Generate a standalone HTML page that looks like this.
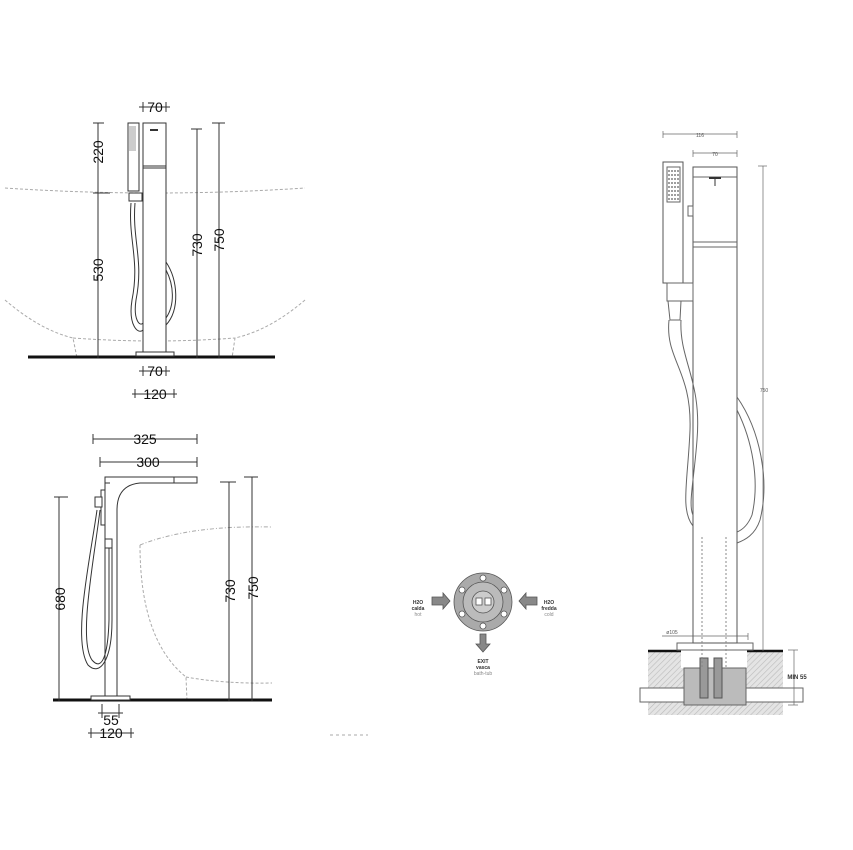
<!DOCTYPE html>
<html><head><meta charset="utf-8"><style>
html,body{margin:0;padding:0;background:#fff}
svg{display:block}
text{font-family:"Liberation Sans",sans-serif}
</style></head><body>
<svg width="853" height="850" viewBox="0 0 853 850" xmlns="http://www.w3.org/2000/svg">
<defs>
<pattern id="h" width="4" height="4" patternUnits="userSpaceOnUse" patternTransform="rotate(45)">
<rect width="4" height="4" fill="#e4e4e4"/><line x1="0" y1="0" x2="0" y2="4" stroke="#bbb" stroke-width="1.2"/></pattern>
</defs>
<g fill="none" stroke="#333" stroke-width="1">
<!-- ===== TOP LEFT VIEW ===== -->
<path d="M5,188 Q155,198 305,188" stroke="#aaa" stroke-dasharray="3,2"/>
<path d="M5,300 Q40,330 73,338 L77,358 M305,300 Q270,330 235,338 L232,358 M73,338 Q155,344 235,338" stroke="#aaa" stroke-dasharray="3,2"/>
<line x1="28" y1="357" x2="275" y2="357" stroke="#111" stroke-width="3"/>
<rect x="143" y="123" width="23" height="229" fill="#fff"/>
<line x1="143" y1="166" x2="166" y2="166"/><line x1="143" y1="168" x2="166" y2="168"/>
<line x1="150" y1="130" x2="158" y2="130" stroke-width="2"/>
<rect x="136" y="352" width="38" height="4" fill="#fff"/>
<rect x="128" y="123" width="11" height="68" fill="#fff"/>
<rect x="129" y="126" width="7" height="25" fill="#ccc" stroke="none"/>
<rect x="129" y="193" width="13" height="8" fill="#fff"/>
<path d="M131,203 C128,240 140,260 132,300 C128,325 138,335 143,330 M135,203 C132,240 144,260 136,300 C133,320 140,327 143,323"/>
<path d="M166,262 C178,280 180,310 166,325 M166,270 C174,285 175,305 166,318"/>
<line x1="98" y1="123" x2="98" y2="358"/><line x1="93" y1="123" x2="104" y2="123"/><line x1="93" y1="193" x2="110" y2="193"/>
<line x1="197" y1="129" x2="197" y2="358"/><line x1="191" y1="129" x2="202" y2="129"/>
<line x1="219" y1="123" x2="219" y2="358"/><line x1="212" y1="123" x2="225" y2="123"/>
<line x1="139" y1="107" x2="170" y2="107"/><line x1="143" y1="102" x2="143" y2="112"/><line x1="166" y1="102" x2="166" y2="112"/>
<line x1="139" y1="371" x2="170" y2="371"/><line x1="143" y1="366" x2="143" y2="376"/><line x1="166" y1="366" x2="166" y2="376"/>
<line x1="132" y1="394" x2="177" y2="394"/><line x1="135" y1="389" x2="135" y2="398"/><line x1="174" y1="389" x2="174" y2="398"/>
<!-- ===== BOTTOM LEFT VIEW ===== -->
<path d="M140,545 Q190,525 272,527" stroke="#aaa" stroke-dasharray="4,2,1,2"/>
<path d="M140,545 Q140,640 186,677 L187,701 M186,677 Q225,684 272,683" stroke="#aaa" stroke-dasharray="3,2"/>
<line x1="53" y1="700" x2="272" y2="700" stroke="#111" stroke-width="3"/>
<path d="M105,697 L105,477 L117,477 Q145,477 197,477 L197,483 L140,483 Q117,485 117,510 L117,697" fill="#fff"/>
<line x1="105" y1="483" x2="110" y2="483"/>
<line x1="174" y1="477" x2="174" y2="483"/>
<rect x="101" y="490" width="4" height="35" fill="#fff"/>
<rect x="95" y="497" width="7" height="10" fill="#fff"/>
<rect x="105" y="539" width="7" height="9" fill="#fff"/>
<path d="M97,510 C90,560 72,640 88,665 C100,677 112,660 112,620 L112,548 M100,510 C94,560 78,640 92,660 C102,672 108,655 109,620 L109,548"/>
<rect x="91" y="696" width="39" height="4" fill="#fff"/>
<line x1="59" y1="497" x2="59" y2="701"/><line x1="54" y1="497" x2="68" y2="497"/>
<line x1="229" y1="482" x2="229" y2="701"/><line x1="220" y1="482" x2="236" y2="482"/>
<line x1="252" y1="477" x2="252" y2="701"/><line x1="244" y1="477" x2="258" y2="477"/>
<line x1="93" y1="439" x2="197" y2="439"/><line x1="93" y1="434" x2="93" y2="444"/><line x1="197" y1="434" x2="197" y2="444"/>
<line x1="100" y1="462" x2="197" y2="462"/><line x1="100" y1="457" x2="100" y2="467"/><line x1="197" y1="457" x2="197" y2="467"/>
<line x1="98" y1="713" x2="123" y2="713"/><line x1="102" y1="704" x2="102" y2="718"/><line x1="119" y1="704" x2="119" y2="718"/>
<line x1="88" y1="733" x2="134" y2="733"/><line x1="91" y1="728" x2="91" y2="738"/><line x1="131" y1="728" x2="131" y2="738"/>
<line x1="330" y1="735" x2="368" y2="735" stroke="#aaa" stroke-dasharray="3,3"/>
<!-- ===== CIRCLE ===== -->
<g stroke="#555" stroke-width="0.8">
<circle cx="483" cy="602" r="29" fill="#aaa"/>
<circle cx="483" cy="602" r="20" fill="#bbb"/>
<circle cx="483" cy="602" r="11" fill="#ccc"/>
<circle cx="483" cy="578" r="3" fill="#fff"/><circle cx="483" cy="626" r="3" fill="#fff"/>
<circle cx="462" cy="590" r="3" fill="#fff"/><circle cx="504" cy="590" r="3" fill="#fff"/>
<circle cx="462" cy="614" r="3" fill="#fff"/><circle cx="504" cy="614" r="3" fill="#fff"/>
<rect x="476" y="598" width="6" height="7" fill="#fff"/><rect x="485" y="598" width="6" height="7" fill="#fff"/>
<path d="M432,597 L443,597 L443,593 L450,601 L443,609 L443,605 L432,605 Z" fill="#888"/>
<path d="M537,597 L526,597 L526,593 L519,601 L526,609 L526,605 L537,605 Z" fill="#888"/>
<path d="M480,634 L486,634 L486,644 L490,644 L483,652 L476,644 L480,644 Z" fill="#888"/>
</g>
<!-- ===== RIGHT VIEW ===== -->
<rect x="648" y="652" width="135" height="63" fill="url(#h)" stroke="none"/>
<rect x="681" y="652" width="66" height="16" fill="#fff" stroke="none"/>
<rect x="640" y="688" width="163" height="14" fill="#fff" stroke="#666"/>
<rect x="684" y="668" width="62" height="37" fill="#bbb" stroke="#666"/>
<rect x="700" y="658" width="8" height="40" fill="#999" stroke="#555"/>
<rect x="714" y="658" width="8" height="40" fill="#999" stroke="#555"/>
<line x1="648" y1="651" x2="681" y2="651" stroke="#111" stroke-width="2.5"/>
<line x1="747" y1="651" x2="783" y2="651" stroke="#111" stroke-width="2.5"/>
<rect x="677" y="643" width="76" height="7" fill="#fff" stroke="#666"/>
<rect x="693" y="167" width="44" height="476" fill="#fff" stroke="#555"/>
<line x1="693" y1="177" x2="737" y2="177" stroke="#666"/>
<line x1="693" y1="242" x2="737" y2="242" stroke="#666"/><line x1="693" y1="247" x2="737" y2="247" stroke="#666"/>
<line x1="709" y1="178" x2="721" y2="178" stroke-width="2"/><line x1="715" y1="178" x2="715" y2="186"/>
<rect x="688" y="206" width="5" height="10" fill="#fff" stroke="#666"/>
<rect x="663" y="162" width="20" height="121" fill="#fff" stroke="#555"/>
<rect x="667" y="167" width="13" height="35" fill="none" stroke="#666"/>
<g stroke="#666" stroke-width="1.3" stroke-dasharray="2,1">
<line x1="668" y1="171" x2="679" y2="171"/><line x1="668" y1="175" x2="679" y2="175"/><line x1="668" y1="179" x2="679" y2="179"/><line x1="668" y1="183" x2="679" y2="183"/><line x1="668" y1="187" x2="679" y2="187"/><line x1="668" y1="191" x2="679" y2="191"/><line x1="668" y1="195" x2="679" y2="195"/><line x1="668" y1="199" x2="679" y2="199"/></g>
<rect x="667" y="283" width="26" height="18" fill="#fff" stroke="#666"/>
<path d="M668,301 L681,301 L680,320 L670,320 Z" fill="#fff" stroke="#666"/>
<path d="M669,320 C665,360 692,370 690,430 C688,480 680,510 693,526 M681,320 C679,360 702,380 697,440 C694,480 688,505 693,515" stroke="#666"/>
<path d="M737,397 C760,430 770,480 760,520 C755,535 745,540 737,543 M737,410 C752,440 760,480 752,515 C748,525 742,530 737,532" stroke="#666"/>
<line x1="702" y1="537" x2="702" y2="668" stroke="#888" stroke-dasharray="2,2"/>
<line x1="726" y1="537" x2="726" y2="668" stroke="#888" stroke-dasharray="2,2"/>
<g stroke="#666" stroke-width="0.7">
<line x1="763" y1="166" x2="763" y2="651"/><line x1="758" y1="166" x2="767" y2="166"/>
<line x1="663" y1="134" x2="737" y2="134"/><line x1="663" y1="131" x2="663" y2="138"/><line x1="737" y1="131" x2="737" y2="138"/>
<line x1="693" y1="153" x2="737" y2="153"/><line x1="693" y1="150" x2="693" y2="157"/><line x1="737" y1="150" x2="737" y2="157"/>
<line x1="662" y1="636" x2="748" y2="636"/><line x1="748" y1="633" x2="748" y2="640"/>
<line x1="794" y1="650" x2="794" y2="705"/><line x1="788" y1="650" x2="798" y2="650"/><line x1="788" y1="705" x2="798" y2="705"/>
</g>
</g>
<g fill="#111" font-size="14" text-anchor="middle">
<text x="155" y="112">70</text>
<text x="155" y="376">70</text>
<text x="155" y="399">120</text>
<text transform="translate(103,152) rotate(-90)">220</text>
<text transform="translate(103,270) rotate(-90)">530</text>
<text transform="translate(202,245) rotate(-90)">730</text>
<text transform="translate(224,240) rotate(-90)">750</text>
<text x="145" y="444">325</text>
<text x="148" y="467">300</text>
<text x="111" y="725">55</text>
<text x="111" y="738">120</text>
<text transform="translate(65,599) rotate(-90)">680</text>
<text transform="translate(235,591) rotate(-90)">730</text>
<text transform="translate(258,588) rotate(-90)">750</text>
</g>
<g font-size="5" text-anchor="middle" fill="#333">
<text x="700" y="137" fill="#555">116</text>
<text x="715" y="156" fill="#555">70</text>
<text x="764" y="392" fill="#555">750</text>
<text x="672" y="634" fill="#555">ø105</text>
<text x="418" y="604" font-weight="bold">H2O</text><text x="418" y="610" font-weight="bold">calda</text><text x="418" y="616" fill="#888">hot</text>
<text x="549" y="604" font-weight="bold">H2O</text><text x="549" y="610" font-weight="bold">fredda</text><text x="549" y="616" fill="#888">cold</text>
<text x="483" y="663" font-weight="bold">EXIT</text><text x="483" y="669" font-weight="bold">vasca</text><text x="483" y="675" fill="#888">bath-tub</text>
<text x="797" y="679" font-size="6" font-weight="bold">MIN 55</text>
</g>
</svg>
</body></html>
